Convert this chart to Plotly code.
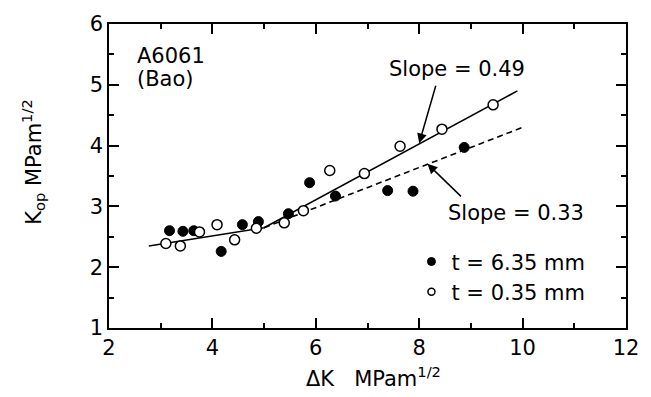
import plotly.graph_objects as go

# Data
thick_x = [3.17, 3.43, 3.64, 4.17, 4.58, 4.89, 5.47, 5.88, 6.38, 7.39, 7.88, 8.87]
thick_y = [2.60, 2.59, 2.60, 2.26, 2.70, 2.75, 2.88, 3.39, 3.17, 3.26, 3.25, 3.97]
thin_x = [3.10, 3.38, 3.75, 4.09, 4.43, 4.85, 5.39, 5.76, 6.27, 6.94, 7.63, 8.44, 9.43]
thin_y = [2.39, 2.35, 2.58, 2.70, 2.45, 2.64, 2.73, 2.93, 3.59, 3.54, 3.99, 4.27, 4.67]
fit_solid_x = [2.77, 5.0, 9.9]
fit_solid_y = [2.35, 2.65, 4.90]
fit_dash_x = [5.0, 10.0]
fit_dash_y = [2.65, 4.30]
legend_names = ["t = 6.35 mm", "t = 0.35 mm"]

FONT = "DejaVu Sans"
fig = go.Figure()
fig.add_trace(go.Scatter(x=fit_solid_x, y=fit_solid_y, mode="lines",
                         line=dict(color="black", width=1.6), showlegend=False))
fig.add_trace(go.Scatter(x=fit_dash_x, y=fit_dash_y, mode="lines",
                         line=dict(color="black", width=1.6, dash="6px,4px"), showlegend=False))
fig.add_trace(go.Scatter(x=thick_x, y=thick_y, mode="markers", name=legend_names[0],
                         showlegend=False,
                         marker=dict(color="black", size=10, line=dict(color="black", width=1))))
fig.add_trace(go.Scatter(x=thin_x, y=thin_y, mode="markers", name=legend_names[1],
                         showlegend=False,
                         marker=dict(color="white", size=10, line=dict(color="black", width=1.5))))
# legend entries (smaller symbols, as in the reference)
fig.add_trace(go.Scatter(x=[None], y=[None], mode="markers", name=legend_names[0],
                         marker=dict(color="black", size=8, line=dict(color="black", width=1))))
fig.add_trace(go.Scatter(x=[None], y=[None], mode="markers", name=legend_names[1],
                         marker=dict(color="white", size=7, line=dict(color="black", width=1.5))))

axis_common = dict(showline=True, linecolor="black", linewidth=1.6, mirror="allticks",
                   ticks="inside", tickcolor="black", tickwidth=1.5, ticklen=10,
                   showgrid=False, zeroline=False,
                   tickfont=dict(family=FONT, size=21, color="black"))
fig.update_xaxes(range=[2, 12], dtick=2, tick0=2,
                 minor=dict(dtick=1, ticks="inside", ticklen=5, tickcolor="black", tickwidth=1.5),
                 **axis_common)
fig.update_yaxes(range=[1, 6], dtick=1, tick0=1,
                 minor=dict(dtick=0.5, ticks="inside", ticklen=5, tickcolor="black", tickwidth=1.5),
                 **axis_common)

ann_font = dict(family=FONT, size=21, color="black")
annotations = [
    dict(text="A6061", x=0.051, y=0.895, xanchor="left", yanchor="middle"),
    dict(text="(Bao)", x=0.051, y=0.82, xanchor="left", yanchor="middle"),
    dict(text="Slope = 0.49", x=(465 - 109.4) / 528, y=(328 - 66) / 307, xanchor="center", yanchor="middle"),
    dict(text="Slope = 0.33", x=(525 - 109.4) / 528, y=(328 - 212) / 307, xanchor="center", yanchor="middle"),
    dict(text="\u0394K\u00a0\u00a0\u00a0MPam<sup>1/2</sup>", x=0.512, y=-0.16, xanchor="center", yanchor="middle"),
    dict(text="K<sub>op</sub> MPam<sup>1/2</sup>", x=-0.146, y=0.545, xanchor="center", yanchor="middle",
         textangle=-90),
]
for a in annotations:
    a.update(xref="paper", yref="paper", showarrow=False, font=ann_font)

# arrows
annotations.append(dict(x=8.0, y=4.04, xref="x", yref="y", text="", showarrow=True,
                        ax=17, ay=-59, arrowhead=2, arrowsize=1.3, arrowwidth=1.5, arrowcolor="black"))
annotations.append(dict(x=8.16, y=3.70, xref="x", yref="y", text="", showarrow=True,
                        ax=35, ay=34, arrowhead=2, arrowsize=1.3, arrowwidth=1.5, arrowcolor="black"))

fig.update_layout(
    width=651, height=397,
    margin=dict(l=109, r=14, t=21, b=69),
    paper_bgcolor="white", plot_bgcolor="white",
    annotations=annotations,
    legend=dict(x=0.585, y=0.285, xanchor="left", yanchor="top",
                font=dict(family=FONT, size=21, color="black"),
                bgcolor="rgba(0,0,0,0)", tracegroupgap=0),
    font=dict(family=FONT, color="black"),
)
fig.write_html("out.html")
